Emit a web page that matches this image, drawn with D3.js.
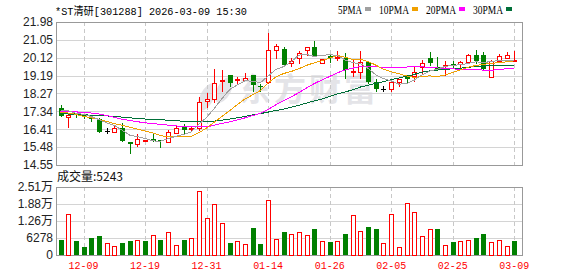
<!DOCTYPE html>
<html>
<head>
<meta charset="utf-8">
<script src="https://cdn.jsdelivr.net/npm/d3@7"></script>
<style>
  body { margin: 0; background: #fff; }
  svg { display: block; }
</style>
</head>
<body>
<div id="chart"></div>
<script>
var stockName = '*ST清研';
var stockCode = '301288';
var stamp = '2026-03-09 15:30';

var dates = ['12-04','12-05','12-08','12-09','12-10','12-11','12-12','12-15','12-16','12-17',
  '12-18','12-19','12-22','12-23','12-24','12-25','12-26','12-29','12-30','12-31',
  '01-05','01-06','01-07','01-08','01-09','01-12','01-13','01-14','01-15','01-16',
  '01-19','01-20','01-21','01-22','01-23','01-26','01-27','01-28','01-29','01-30',
  '02-02','02-03','02-04','02-05','02-06','02-09','02-10','02-11','02-12','02-13',
  '02-24','02-25','02-26','02-27','03-02','03-03','03-04','03-05','03-06','03-09'];

var open = [17.50,17.03,17.24,17.18,17.06,16.92,16.32,16.25,16.46,15.75,
  15.63,15.78,15.88,15.86,15.77,16.23,16.54,16.41,16.47,17.86,
  17.99,18.90,19.21,18.97,18.98,19.21,18.65,18.86,20.54,20.59,
  19.85,20.11,20.51,20.67,19.85,20.20,20.11,20.11,19.40,19.37,
  19.89,18.85,18.50,18.51,18.86,19.19,19.16,19.63,20.11,19.64,
  19.68,19.80,19.82,19.89,20.25,20.25,19.11,19.97,20.11,19.99];

var close = [17.11,17.15,17.13,17.06,16.92,16.28,16.32,16.47,15.81,15.63,
  15.89,15.85,15.80,15.80,16.27,16.46,16.37,16.45,17.82,17.98,
  18.81,18.95,18.81,19.00,19.07,18.69,18.60,20.51,20.72,19.76,
  19.94,20.37,20.67,20.20,20.06,20.10,20.18,19.50,19.45,19.89,
  18.85,18.50,18.50,18.86,19.02,19.03,19.38,19.85,19.85,19.55,
  19.73,19.73,19.88,20.25,19.97,19.55,19.97,20.20,20.28,20.02];

var high = [17.67,17.15,17.27,17.20,17.08,16.98,16.46,16.59,16.75,15.75,
  16.16,15.87,16.23,15.86,16.35,16.58,16.68,16.55,18.08,18.29,
  19.54,19.50,19.21,19.10,19.33,19.21,18.76,21.41,20.84,20.66,
  20.11,20.46,20.67,21.01,20.06,20.30,20.46,20.37,20.07,20.49,
  19.89,19.02,18.64,19.03,19.02,19.24,19.63,20.02,20.42,20.16,
  19.97,19.94,19.97,20.32,20.54,20.42,20.02,20.30,20.41,20.49];

var low = [17.11,16.54,17.06,17.00,16.85,16.28,16.20,16.25,15.81,15.19,
  15.53,15.78,15.80,15.50,15.73,16.20,16.16,16.30,16.38,17.55,
  17.82,18.41,18.64,18.81,18.98,18.41,18.38,18.81,20.11,19.76,
  19.71,19.85,20.28,20.20,19.85,19.90,20.02,19.07,19.16,19.07,
  18.82,18.38,18.38,18.41,18.64,18.81,18.90,19.33,19.76,19.50,
  19.24,19.60,19.63,19.89,19.85,19.55,19.11,19.93,20.11,19.94];

var volume = [5540,15030,5170,2950,6280,7020,4320,3320,4430,5170,
  5420,5170,7270,5540,8370,3570,5540,6160,23640,13540,
  18710,11700,4430,5050,3940,9970,4060,20310,5910,8490,
  7700,8370,7270,9600,5050,4800,5050,7760,14650,8740,
  10340,9600,4320,15030,2840,19090,15760,7130,9490,9600,
  3690,4800,5170,5420,6280,7760,4690,5420,3320,5243];

// u = red (up), d = green (down), as coloured in the volume panel
var volDir = ['d','u','d','d','d','d','u','u','d','d',
  'u','d','u','d','u','u','d','u','u','u',
  'u','u','d','u','u','d','d','u','u','d',
  'u','u','u','d','u','d','u','d','u','u',
  'd','d','u','u','u','u','u','u','u','d',
  'u','d','u','u','d','d','u','u','u','d'];

var ma5 = [17.41,17.37,17.24,17.18,17.07,16.91,16.74,16.61,16.36,16.10,
  16.02,15.93,15.80,15.79,15.92,16.04,16.14,16.27,16.67,17.02,
  17.49,18.00,18.47,18.71,18.93,18.90,18.83,19.17,19.52,19.66,
  19.91,20.26,20.29,20.19,20.25,20.28,20.24,20.01,19.86,19.82,
  19.57,19.24,19.04,18.92,18.75,18.78,18.96,19.23,19.43,19.53,
  19.67,19.74,19.75,19.83,19.91,19.88,19.92,19.99,19.99,20.00];

var ma10 = [17.30,17.25,17.18,17.08,17.00,16.92,16.82,16.70,16.62,16.52,
  16.42,16.32,16.21,16.08,16.01,16.03,16.04,16.04,16.23,16.47,
  16.77,17.07,17.37,17.69,17.98,18.20,18.42,18.82,19.12,19.30,
  19.41,19.55,19.73,19.86,19.96,20.10,20.25,20.15,20.03,20.04,
  19.93,19.74,19.53,19.39,19.29,19.18,19.10,19.14,19.18,19.14,
  19.23,19.35,19.49,19.63,19.72,19.78,19.83,19.87,19.91,19.96];

var ma20 = [17.33,17.32,17.31,17.28,17.25,17.20,17.12,17.03,16.93,16.86,
  16.80,16.74,16.70,16.66,16.62,16.58,16.55,16.53,16.53,16.53,
  16.62,16.71,16.79,16.89,17.00,17.12,17.23,17.43,17.68,17.89,
  18.09,18.31,18.55,18.78,18.97,19.15,19.34,19.49,19.58,19.67,
  19.67,19.65,19.63,19.63,19.63,19.64,19.68,19.65,19.61,19.59,
  19.58,19.55,19.51,19.51,19.51,19.48,19.47,19.51,19.55,19.55];

var ma30 = [17.22,17.20,17.18,17.16,17.14,17.12,17.10,17.07,17.04,17.00,
  16.97,16.94,16.92,16.90,16.88,16.85,16.82,16.80,16.80,16.81,
  16.83,16.88,16.94,17.00,17.08,17.15,17.22,17.30,17.38,17.45,
  17.55,17.65,17.77,17.88,17.98,18.11,18.24,18.34,18.46,18.60,
  18.70,18.79,18.88,18.98,19.07,19.16,19.26,19.37,19.44,19.49,
  19.52,19.55,19.58,19.63,19.66,19.68,19.73,19.72,19.71,19.71];

var maNames = ['5PMA', '10PMA', '20PMA', '30PMA'];
var maColors = ['#a0a0a0', '#f0a000', '#ff00ff', '#006f38'];

var priceTicks = [21.98, 21.05, 20.12, 19.19, 18.27, 17.34, 16.41, 15.48, 14.55];
var volTicks = [0, 6278, 12556, 18834, 25112];
var volTickLabels = ['0', '6278', '1.26万', '1.88万', '2.51万'];
var dateTicks = ['12-09', '12-19', '12-31', '01-14', '01-26', '02-05', '02-25', '03-09'];

var width = 578;
var height = 276;
var plot = { left: 56, right: 522, priceTop: 22, priceBottom: 165, volTop: 187, volBottom: 255 };

var sans = '"Liberation Sans", Arial, "Noto Sans CJK SC", sans-serif';
var mono = '"Liberation Mono", "Noto Sans CJK SC", monospace';

var svg = d3.select('#chart')
  .append('svg')
    .attr('width', width)
    .attr('height', height);

var x = d3.scalePoint().domain(dates).range([60.5, 514.2]);
var y = d3.scaleLinear().domain([14.55, 21.98]).range([plot.priceBottom, plot.priceTop]);
var yVol = d3.scaleLinear().domain([0, 25112]).range([plot.volBottom, plot.volTop]);

function px(v) { return Math.round(v) + 0.5; }

drawWatermark();
drawGrid();
drawCandles();
drawVolume();
drawLines();
drawLabels();

function drawWatermark() {
  var wm = svg.append('g').attr('fill', '#e4e4e8');
  wm.append('ellipse')
    .attr('cx', 207).attr('cy', 97).attr('rx', 7).attr('ry', 15)
    .attr('transform', 'rotate(28 207 97)');
  wm.append('ellipse')
    .attr('cx', 224).attr('cy', 90).attr('rx', 7).attr('ry', 14)
    .attr('transform', 'rotate(28 224 90)');
  wm.append('text')
    .attr('x', 239)
    .attr('y', 101)
    .attr('font-family', '"Noto Sans CJK SC", sans-serif')
    .attr('font-weight', 'bold')
    .attr('font-size', 32)
    .attr('letter-spacing', 3)
    .text('东方财富');
}

function drawGrid() {
  var g = svg.append('g').attr('shape-rendering', 'crispEdges');

  g.selectAll('.pgrid')
      .data(priceTicks)
      .enter()
    .append('line')
      .attr('x1', plot.left).attr('x2', plot.right)
      .attr('y1', function (d) { return px(y(d)); })
      .attr('y2', function (d) { return px(y(d)); })
      .attr('stroke', '#d4d4d4');

  g.selectAll('.vgrid')
      .data(volTicks)
      .enter()
    .append('line')
      .attr('x1', plot.left).attr('x2', plot.right)
      .attr('y1', function (d) { return px(yVol(d)); })
      .attr('y2', function (d) { return px(yVol(d)); })
      .attr('stroke', '#d4d4d4');

  [[plot.priceTop, plot.priceBottom], [plot.volTop, plot.volBottom]].forEach(function (r) {
    g.selectAll(null)
        .data(dateTicks)
        .enter()
      .append('line')
        .attr('x1', function (d) { return px(x(d)); })
        .attr('x2', function (d) { return px(x(d)); })
        .attr('y1', r[0]).attr('y2', r[1])
        .attr('stroke', '#c8c8c8')
        .attr('stroke-dasharray', '4,3');

    g.append('rect')
      .attr('x', plot.left + 0.5)
      .attr('y', r[0] + 0.5)
      .attr('width', plot.right - plot.left)
      .attr('height', r[1] - r[0])
      .attr('fill', 'none')
      .attr('stroke', '#999');
  });
}

function drawCandles() {
  var g = svg.append('g').attr('shape-rendering', 'crispEdges');

  dates.forEach(function (d, i) {
    var cx = Math.round(x(d));
    var o = open[i], c = close[i];
    var color = c > o ? '#ff0000' : (c < o ? '#008000' : '#000000');
    var top = Math.round(y(Math.max(o, c)));
    var bot = Math.round(y(Math.min(o, c)));

    g.append('line')
      .attr('x1', cx + 0.5).attr('x2', cx + 0.5)
      .attr('y1', Math.round(y(high[i])))
      .attr('y2', Math.round(y(low[i])) + 1)
      .attr('stroke', color);

    if (c > o) {
      g.append('rect')
        .attr('x', cx - 1.5).attr('y', top + 0.5)
        .attr('width', 4).attr('height', Math.max(bot - top, 1))
        .attr('fill', '#fff')
        .attr('stroke', color);
    } else if (c < o) {
      g.append('rect')
        .attr('x', cx - 2).attr('y', top)
        .attr('width', 5).attr('height', Math.max(bot - top, 1))
        .attr('fill', color);
    } else {
      g.append('line')
        .attr('x1', cx - 2).attr('x2', cx + 3)
        .attr('y1', top + 0.5).attr('y2', top + 0.5)
        .attr('stroke', color);
    }
  });
}

function drawVolume() {
  svg.append('g')
      .attr('shape-rendering', 'crispEdges')
    .selectAll('rect')
      .data(volume)
      .enter()
    .append('rect')
      .attr('x', function (d, i) { return Math.round(x(dates[i])) - 2 + (volDir[i] == 'u' ? 0.5 : 0); })
      .attr('y', function (d, i) { return Math.round(yVol(d)) + (volDir[i] == 'u' ? 0.5 : 0); })
      .attr('width', function (d, i) { return volDir[i] == 'u' ? 4 : 5; })
      .attr('height', function (d, i) { return plot.volBottom - Math.round(yVol(d)) - (volDir[i] == 'u' ? 0.5 : 0); })
      .attr('fill', function (d, i) { return volDir[i] == 'u' ? '#fff' : '#008000'; })
      .attr('stroke', function (d, i) { return volDir[i] == 'u' ? '#ff0000' : 'none'; });
}

function drawLines() {
  var line = d3.line()
    .x(function (d, i) { return x(dates[i]); })
    .y(function (d) { return y(d); });

  svg.append('g')
    .selectAll('path')
      .data([ma30, ma20, ma10, ma5])
      .enter()
    .append('path')
      .attr('fill', 'none')
      .attr('stroke', function (d, k) { return maColors[3 - k]; })
      .attr('stroke-width', 1)
      .attr('shape-rendering', 'crispEdges')
      .attr('d', line);
}

function drawLabels() {
  svg.append('text')
    .attr('x', 55)
    .attr('y', 15)
    .attr('font-family', mono)
    .attr('font-size', 11)
    .attr('textLength', 192)
    .attr('lengthAdjust', 'spacingAndGlyphs')
    .text(stockName + '[' + stockCode + '] ' + stamp);

  var lx = 338;
  maNames.forEach(function (name, k) {
    svg.append('text')
      .attr('x', lx)
      .attr('y', 13.5)
      .attr('font-family', '"Liberation Serif", serif')
      .attr('font-size', 12)
      .attr('textLength', name.length * 6)
      .attr('lengthAdjust', 'spacingAndGlyphs')
      .text(name);
    lx += name.length * 6 + 3;
    svg.append('rect')
      .attr('x', lx).attr('y', 7)
      .attr('width', 6).attr('height', 4)
      .attr('fill', maColors[k]);
    lx += 6 + 8;
  });

  svg.selectAll('.plabel')
      .data(priceTicks)
      .enter()
    .append('text')
      .attr('x', 53)
      .attr('y', function (d) { return y(d); })
      .attr('dy', '0.36em')
      .attr('text-anchor', 'end')
      .attr('font-family', sans)
      .attr('font-size', 12)
      .attr('fill', '#222')
      .text(function (d) { return d.toFixed(2); });

  svg.selectAll('.vlabel')
      .data(volTicks)
      .enter()
    .append('text')
      .attr('x', 53)
      .attr('y', function (d) { return yVol(d); })
      .attr('dy', '0.36em')
      .attr('text-anchor', 'end')
      .attr('font-family', sans)
      .attr('font-size', 12)
      .attr('fill', '#222')
      .text(function (d, i) { return volTickLabels[i]; });

  svg.append('text')
    .attr('x', 57)
    .attr('y', 181)
    .attr('font-family', '"Noto Sans CJK SC", sans-serif')
    .attr('font-size', 12)
    .attr('fill', '#111')
    .text('成交量:' + volume[volume.length - 1]);

  svg.selectAll('.dlabel')
      .data(dateTicks)
      .enter()
    .append('text')
      .attr('x', function (d) { return x(d) - 15; })
      .attr('y', 269)
      .attr('font-family', mono)
      .attr('font-size', 11)
      .attr('textLength', 30)
      .attr('lengthAdjust', 'spacingAndGlyphs')
      .attr('fill', '#ff0000')
      .text(function (d) { return d; });
}
</script>
</body>
</html>
